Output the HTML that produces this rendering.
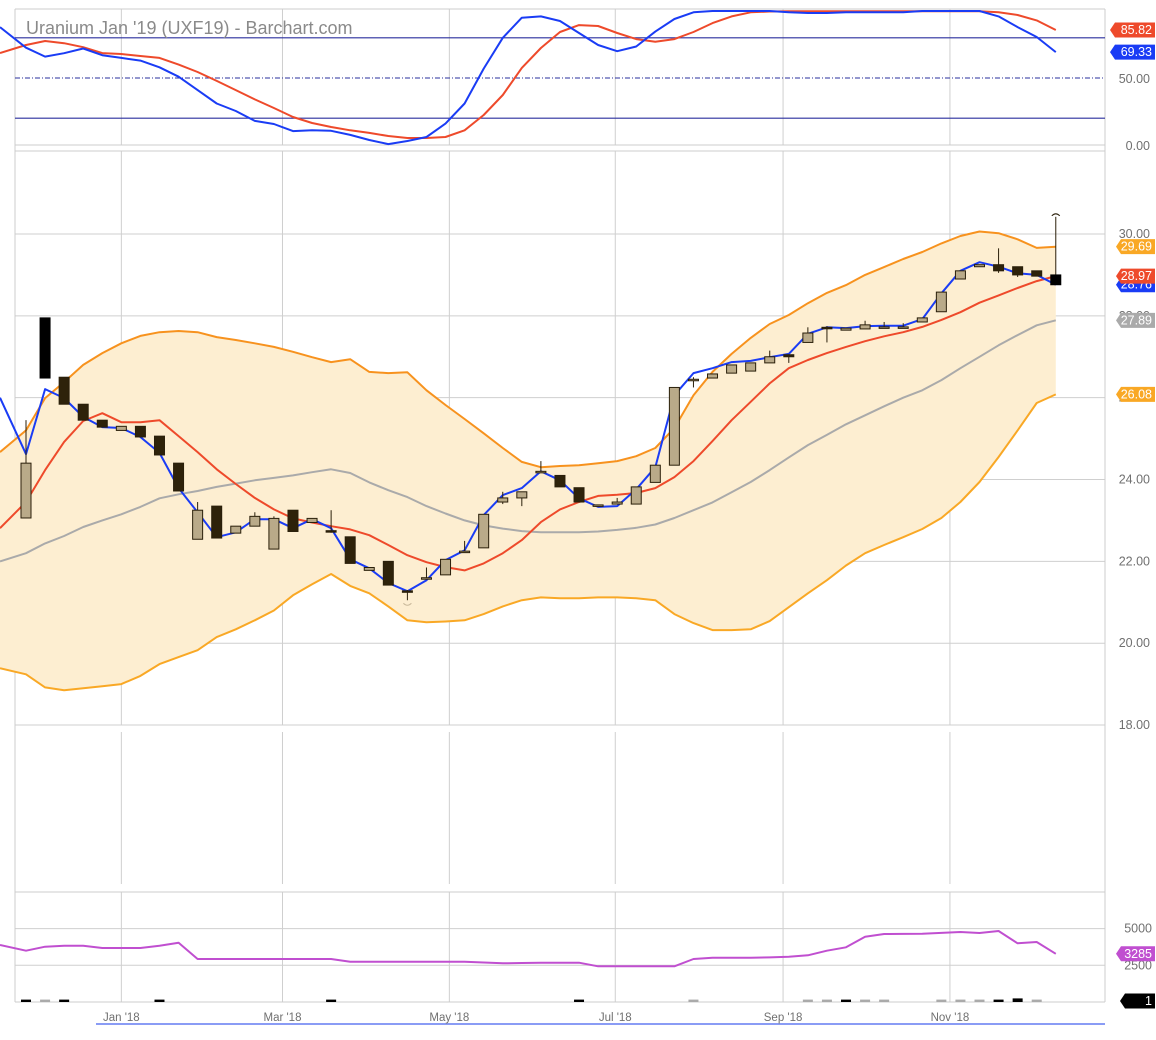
<!DOCTYPE html>
<html><head><meta charset="utf-8"><title>Uranium Jan '19 (UXF19)</title>
<style>
html,body{margin:0;padding:0;background:#fff;}
svg{display:block;font-family:"Liberation Sans",sans-serif;}
</style></head>
<body>
<svg id="chart" width="1156" height="1040" viewBox="0 0 1156 1040" xmlns="http://www.w3.org/2000/svg">
<g id="grid"></g>
<g id="band"></g>
<g id="lines"></g>
<g id="candles"></g>
<g id="labels"></g>
<text x="26" y="34" font-size="18" fill="#8a8a8a">Uranium Jan '19 (UXF19) - Barchart.com</text>
</svg>
<script>
// ---- data (weekly bars, index 0..54; first entry of line arrays = prior point at left edge) ----
const xLabels = ["Jan '18","Mar '18","May '18","Jul '18","Sep '18","Nov '18"];
const xLabelIdx = [5, 13.45, 22.2, 30.9, 39.7, 48.45];
const opens = [23.06,27.95,26.50,25.84,25.45,25.20,25.30,25.06,24.40,22.54,23.35,22.69,22.86,22.30,23.25,22.95,22.75,22.60,21.78,22.00,21.28,21.60,21.67,22.25,22.33,23.45,23.55,24.20,24.10,23.80,23.35,23.40,23.40,23.93,24.35,26.42,26.48,26.60,26.65,26.85,27.05,27.35,27.72,27.65,27.68,27.73,27.73,27.85,28.10,28.90,29.20,29.25,29.20,29.10,29.00];
const closes = [24.40,26.48,25.84,25.45,25.28,25.30,25.04,24.60,23.72,23.25,22.57,22.86,23.10,23.05,22.73,23.05,22.73,21.95,21.85,21.42,21.27,21.60,22.05,22.25,23.15,23.55,23.70,24.20,23.82,23.45,23.38,23.45,23.82,24.35,26.25,26.45,26.58,26.80,26.85,27.00,27.00,27.58,27.70,27.70,27.78,27.73,27.73,27.95,28.58,29.10,29.25,29.10,29.00,28.97,28.76];
const highs = [25.45,27.95,26.50,25.84,25.45,25.30,25.30,25.06,24.40,23.45,23.35,22.86,23.20,23.10,23.25,23.05,23.25,22.60,21.85,22.00,21.30,21.85,22.05,22.50,23.15,23.70,23.70,24.45,24.10,23.80,23.38,23.55,23.82,24.35,26.25,26.50,26.58,26.80,26.85,27.15,27.05,27.72,27.75,27.70,27.88,27.85,27.82,27.95,28.58,29.10,29.25,29.65,29.20,29.10,30.42];
const lows = [23.06,26.48,25.84,25.45,25.28,25.20,25.04,24.60,23.72,22.54,22.57,22.69,22.86,22.30,22.73,22.95,22.70,21.95,21.78,21.42,21.05,21.60,21.67,22.25,22.33,23.40,23.35,24.20,23.82,23.45,23.35,23.40,23.40,23.93,24.35,26.25,26.48,26.60,26.65,26.85,26.85,27.35,27.35,27.65,27.68,27.73,27.73,27.85,28.10,28.90,29.20,29.05,28.95,28.97,28.76];
const blueMA = [26.0,24.62,26.21,25.99,25.53,25.28,25.26,25.04,24.65,23.79,23.20,22.59,22.71,23.03,23.03,22.81,23.03,22.81,22.05,21.83,21.47,21.27,21.54,22.03,22.27,23.13,23.62,23.79,24.20,23.98,23.54,23.33,23.35,23.76,24.30,26.06,26.60,26.72,26.87,26.90,26.99,27.07,27.56,27.72,27.70,27.75,27.76,27.76,27.92,28.55,29.10,29.31,29.20,29.04,29.00,28.76];
const redMA = [22.81,23.45,24.23,24.92,25.43,25.62,25.40,25.40,25.45,25.06,24.67,24.25,23.89,23.55,23.27,23.05,22.95,22.86,22.78,22.64,22.40,22.15,21.98,21.86,21.78,21.95,22.20,22.52,22.96,23.27,23.45,23.60,23.63,23.67,23.79,24.06,24.45,24.94,25.45,25.90,26.35,26.72,26.92,27.09,27.24,27.38,27.50,27.60,27.73,27.90,28.09,28.32,28.50,28.68,28.85,28.97];
const midBand = [22.0,22.20,22.44,22.62,22.84,23.00,23.15,23.33,23.54,23.64,23.72,23.82,23.90,23.98,24.04,24.10,24.18,24.25,24.16,23.93,23.74,23.57,23.35,23.17,23.00,22.88,22.80,22.74,22.71,22.71,22.71,22.73,22.77,22.82,22.90,23.06,23.25,23.44,23.69,23.94,24.23,24.54,24.84,25.09,25.35,25.57,25.79,26.00,26.18,26.43,26.72,27.00,27.28,27.53,27.77,27.89];
const upperBand = [24.67,25.20,25.99,26.38,26.80,27.09,27.33,27.51,27.60,27.63,27.60,27.48,27.41,27.33,27.24,27.12,26.99,26.87,26.94,26.63,26.60,26.62,26.18,25.82,25.48,25.13,24.77,24.43,24.30,24.33,24.35,24.40,24.45,24.57,24.77,25.26,26.06,26.63,27.07,27.46,27.80,28.02,28.31,28.56,28.75,29.00,29.19,29.39,29.56,29.77,29.95,30.06,30.02,29.87,29.66,29.69];
const lowerBand = [19.39,19.24,18.92,18.85,18.90,18.95,19.00,19.20,19.49,19.66,19.83,20.15,20.34,20.56,20.80,21.17,21.44,21.69,21.40,21.22,20.90,20.56,20.51,20.53,20.56,20.71,20.90,21.05,21.12,21.10,21.10,21.12,21.12,21.10,21.05,20.71,20.49,20.32,20.32,20.34,20.54,20.88,21.22,21.54,21.90,22.20,22.40,22.59,22.79,23.06,23.45,23.94,24.55,25.20,25.87,26.08];
const stochK = [88,72.6,66,68.5,72,67,65,63,58,51,41,31,25.4,18,15.7,10.4,11,10.6,7.5,3.7,0.7,3,6,16,31,57,80,95,96,92.5,83.6,74.6,70,73.5,84.6,94,99,100,100,100,100,99,98.5,98.5,99,99,99,99,100,100,100,100,96,88,80.6,69.33];
const stochD = [68.6,74.6,77.6,76,73,68.6,67.9,66.4,65,60,54.5,47.8,41,34,27.6,20.9,16.4,13.4,11,9,6.7,5.2,5.2,6,11,22.4,37.3,57.5,72.4,84.3,89.5,88.8,83.6,79,77,79,84.3,91,96,99,99.6,99.8,99.8,99.8,99.8,99.8,99.8,99.8,99.8,99.8,99.8,99.8,99,97,93,85.82];
const openInt = [3883,3495,3767,3835,3835,3678,3678,3678,3835,4040,2930,2930,2930,2930,2930,2930,2930,2930,2745,2745,2745,2745,2745,2745,2745,2690,2636,2660,2680,2680,2680,2430,2430,2430,2430,2430,2930,3018,3018,3018,3040,3085,3180,3495,3725,4450,4630,4640,4650,4710,4770,4700,4835,4000,4085,3285];
const volume = [2,2,2,0,0,0,0,2,0,0,0,0,0,0,0,0,2,0,0,0,0,0,0,0,0,0,0,0,0,2,0,0,0,0,0,2,0,0,0,0,0,2,2,2,2,2,0,0,2,2,2,2,3,2,0];
const volUp = [0,1,0,0,0,0,0,0,0,0,0,0,0,0,0,0,0,0,0,0,0,0,0,0,0,0,0,0,0,0,0,0,0,0,0,1,0,0,0,0,0,1,1,0,1,1,0,0,1,1,1,0,0,1,0];
const priceTicks = [30,28,26,24,22,20,18];
const priceTickText = ["30.00","28.00","26.00","24.00","22.00","20.00","18.00"];
const stochTicks = [50,0];
const oiTicks = [5000,2500];

// ---- scales ----
const X0 = 26, DX = 19.07;
const xs = i => X0 + DX * i;
const xLine = j => j === 0 ? 0 : xs(j - 1);
const yP = p => 234 + (30 - p) * 40.92;
const yS = v => 145 - v * 1.34;
const yOI = v => 1002 - v * 36.7 / 2500;
const yV = v => 1002 - v * 1.2;
const NS = "http://www.w3.org/2000/svg";
function mk(parent, tag, attrs) {
  const e = document.createElementNS(NS, tag);
  for (const k in attrs) e.setAttribute(k, attrs[k]);
  document.getElementById(parent).appendChild(e);
  return e;
}
const L = 15, R = 1105;
const panels = [[9,145],[151,725],[732,884],[892,1002]];
panels.forEach((p, k) => {
  xLabelIdx.forEach(ix => {
    const e = mk('grid','line',{x1:xs(ix),x2:xs(ix),y1:p[0],y2:p[1],stroke:'#cfcfcf','stroke-width':1});
    
    
  });
});
[[9],[145],[151],[725],[892],[1002]].forEach(a => {
  const e = mk('grid','line',{x1:L,x2:R,y1:a[0],y2:a[0],stroke:'#cccccc','stroke-width':1});
  
  
});
priceTicks.forEach(p => {
  const e = mk('grid','line',{x1:L,x2:R,y1:yP(p),y2:yP(p),stroke:'#cfcfcf','stroke-width':1});
  
  
});
oiTicks.forEach(v => {
  const e = mk('grid','line',{x1:L,x2:R,y1:yOI(v),y2:yOI(v),stroke:'#cfcfcf','stroke-width':1});
  
  
});
{
  let e = mk('grid','line',{x1:L,x2:L,y1:9,y2:1002,stroke:'#cccccc'});
   
  e = mk('grid','line',{x1:R,x2:R,y1:9,y2:1002,stroke:'#cccccc'});
   
  e = mk('grid','line',{x1:L,x2:R,y1:yS(80),y2:yS(80),stroke:'#2a2f9e','stroke-width':1.2});
   
  e = mk('grid','line',{x1:L,x2:R,y1:yS(20),y2:yS(20),stroke:'#2a2f9e','stroke-width':1.2});
   
  e = mk('grid','line',{x1:L,x2:R,y1:yS(50),y2:yS(50),stroke:'#2a2f9e','stroke-width':1,'stroke-dasharray':'5,2,1,2'});
   
  e = mk('grid','line',{x1:96,x2:R,y1:1024,y2:1024,stroke:'#8a9cf5','stroke-width':2});
   
}
function pts(arr, yf) { return arr.map((v, j) => xLine(j).toFixed(1) + ',' + yf(v).toFixed(1)); }
{
  const up = pts(upperBand, yP), lo = pts(lowerBand, yP).reverse();
  const e = mk('band','polygon',{points: up.concat(lo).join(' '), fill:'#fdeed1', stroke:'none'});
   
}
function line(arr, yf, color, w, name) {
  const e = mk('lines','polyline',{points: pts(arr, yf).join(' '), fill:'none', stroke:color, 'stroke-width':w, 'stroke-linejoin':'round'});
  
  
}
line(upperBand, yP, '#f7921e', 2, 'upper-band');
line(lowerBand, yP, '#f9a825', 2, 'lower-band');
line(midBand, yP, '#aaaaaa', 2, 'middle-band');
line(redMA, yP, '#ee4a2b', 2, 'red-moving-average');
line(stochD, yS, '#ee4a2b', 2, 'stoch-d-line');
line(stochK, yS, '#1a3cf5', 2, 'stoch-k-line');
line(openInt, yOI, '#c04fd0', 2, 'open-interest-line');
opens.forEach((o, i) => {
  const c = closes[i], x = xs(i);
  const w = mk('candles','line',{x1:x,x2:x,y1:yP(highs[i]),y2:yP(lows[i]),stroke:'#2a1f0a','stroke-width':1});
  
  
  const top = yP(Math.max(o, c)), bot = yP(Math.min(o, c));
  const isUp = c >= o;
  const blk = (i === 1 || i === 54);
  const b = mk('candles','rect',{x:x-5,y:top,width:10,height:Math.max(1.5,bot-top),
    fill: blk ? '#000' : (isUp ? '#b9aa89' : '#2e220a'), stroke: blk ? '#000' : '#2a1f0a','stroke-width':1});
  
  
});
line(blueMA, yP, '#1a3cf5', 2, 'blue-moving-average');
{
  let a = mk('candles','path',{d:`M${xs(20)-4},${yP(lows[20])+3} q4,4 8,0`,fill:'none',stroke:'#c8b89a','stroke-width':1});
   
  a = mk('candles','path',{d:`M${xs(54)-4},${yP(highs[54])-1} q4,-4 8,0`,fill:'none',stroke:'#2a1f0a','stroke-width':1});
   
}
volume.forEach((v, i) => {
  if (!v) return;
  const r = mk('candles','rect',{x:xs(i)-5,y:yV(v),width:10,height:1002-yV(v),fill: volUp[i] ? '#aaaaaa' : '#000'});
  
  
});
function txt(x, y, s, color, anchor, name) {
  const t = mk('labels','text',{x:x,y:y,'font-size':12.5,fill:color,'text-anchor':anchor||'end','dominant-baseline':'central'});
  t.textContent = s;
  
  
}
priceTicks.forEach((p, k) => txt(1150, yP(p), priceTickText[k], '#707070', 'end', 'price-tick-label'));
stochTicks.forEach(v => txt(1150, yS(v) + 1, v.toFixed(2), '#707070', 'end', 'stoch-tick-label'));
oiTicks.forEach(v => txt(1152, yOI(v), String(v), '#707070', 'end', 'oi-tick-label'));
xLabels.forEach((s, k) => {
  const t = mk('labels','text',{x:xs(xLabelIdx[k]),y:1021,'font-size':11.5,fill:'#707070','text-anchor':'middle'});
  t.textContent = s;
  
  
});
function tag(y, s, color, name, x0) {
  x0 = x0 || 1116;
  const p = mk('labels','polygon',{points:`${x0},${y} ${x0+5},${y-7.5} 1155,${y-7.5} 1155,${y+7.5} ${x0+5},${y+7.5}`,fill:color});
  
  
  txt(1152, y, s, '#fff', 'end', name + '-value');
}
tag(yS(stochD[55]), '85.82', '#ee4a2b', 'stoch-d', 1110);
tag(yS(stochK[55]), '69.33', '#1a3cf5', 'stoch-k', 1110);
tag(yP(upperBand[55]), '29.69', '#f9a825', 'upper-band');
tag(yP(blueMA[55]), '28.76', '#1a3cf5', 'blue-ma');
tag(yP(redMA[55]), '28.97', '#ee4a2b', 'red-ma');
tag(yP(midBand[55]), '27.89', '#aaaaaa', 'middle-band');
tag(yP(lowerBand[55]), '26.08', '#f9a825', 'lower-band');
tag(yOI(openInt[55]), '3285', '#c04fd0', 'open-interest');
tag(1001, '1', '#000', 'volume', 1120);
</script>
</body></html>
